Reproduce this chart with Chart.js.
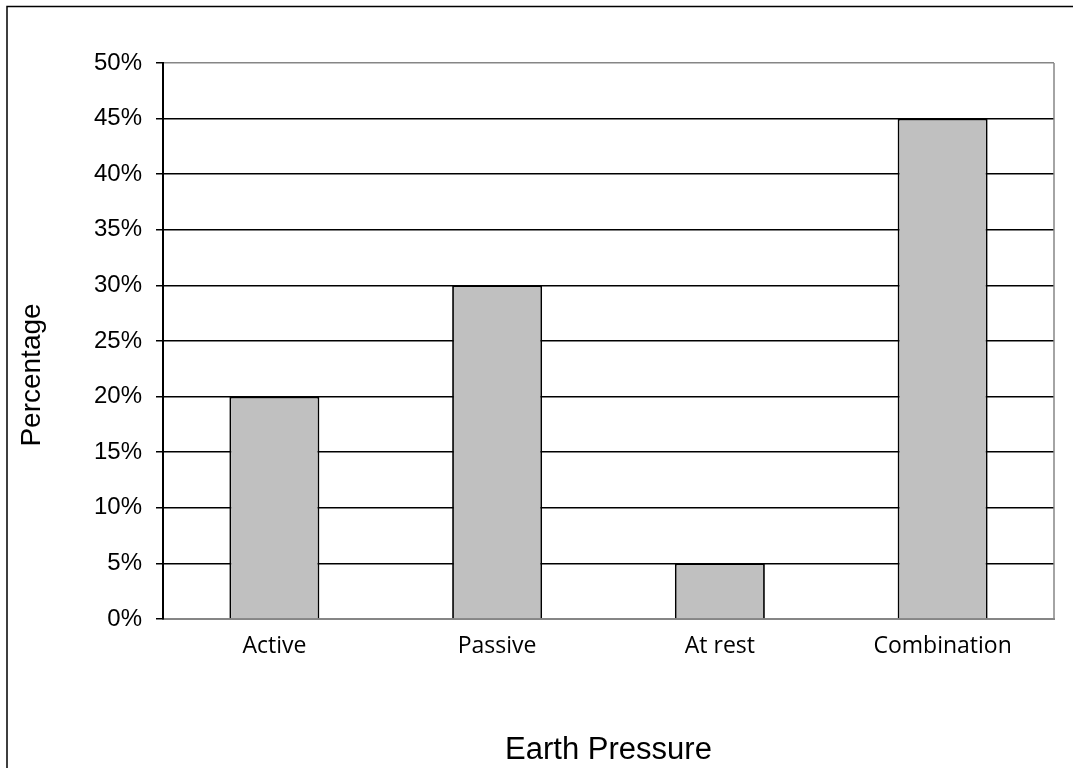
<!DOCTYPE html>
<html>
<head>
<meta charset="utf-8">
<script src="https://cdn.jsdelivr.net/npm/chart.js@4/dist/chart.umd.min.js"></script>
<style>
  html, body { margin: 0; padding: 0; background: #fff; }
  #wrap { width: 1073px; height: 768px; position: relative; }
</style>
</head>
<body>
<div id="wrap"><canvas id="earth"></canvas></div>
<script>
var categories = ["Active", "Passive", "At rest", "Combination"];
var percentages = [20, 30, 5, 45];
var yTicks = [0, 5, 10, 15, 20, 25, 30, 35, 40, 45, 50];

var frameGray = "#868686";

// outer frame, plot right edge and the rotated y title
var framePlugin = {
    id: "frame",
    beforeDatasetsDraw: function (chart) {
        var ctx = chart.ctx;
        var a = chart.chartArea;
        ctx.save();
        ctx.strokeStyle = frameGray;
        ctx.lineWidth = 1.5;
        ctx.beginPath();
        ctx.moveTo(a.right, a.top);
        ctx.lineTo(a.right, a.bottom);
        ctx.stroke();
        ctx.restore();
    },
    afterDraw: function (chart) {
        var ctx = chart.ctx;
        ctx.save();
        ctx.strokeStyle = "#000";
        ctx.lineWidth = 1.5;
        ctx.beginPath();
        ctx.moveTo(7, chart.height);
        ctx.lineTo(7, 6.5);
        ctx.lineTo(chart.width, 6.5);
        ctx.stroke();
        // y axis title
        ctx.translate(32, 375);
        ctx.rotate(-Math.PI / 2);
        ctx.fillStyle = "#000";
        ctx.font = "28px 'Liberation Sans', Arial, sans-serif";
        ctx.textAlign = "center";
        ctx.textBaseline = "middle";
        ctx.fillText("Percentage", 0, 0);
        ctx.restore();
    }
};

var ctx = document.getElementById("earth").getContext("2d");
new Chart(ctx, {
    type: "bar",
    data: {
        labels: categories,
        datasets: [{
            data: percentages,
            backgroundColor: "#c0c0c0",
            borderColor: "#000",
            borderWidth: 1.8,
            barPercentage: 0.404,
            categoryPercentage: 1.0
        }]
    },
    options: {
        responsive: true,
        maintainAspectRatio: false,
        animation: false,
        layout: { padding: { left: 0, top: 63, right: 19, bottom: 0 } },
        plugins: {
            legend: { display: false },
            tooltip: { enabled: false }
        },
        scales: {
            x: {
                afterFit: function (scale) { scale.height = 149; },
                grid: { display: false, drawTicks: false },
                border: { display: true, color: frameGray, width: 2 },
                ticks: {
                    color: "#000",
                    padding: 14,
                    font: { family: "'Open Sans', sans-serif", size: 23 }
                },
                title: {
                    display: true,
                    text: "Earth Pressure",
                    color: "#000",
                    padding: { top: 0, bottom: 0 },
                    font: { family: "'Liberation Sans', Arial, sans-serif", size: 31, lineHeight: 1.1 }
                }
            },
            y: {
                min: 0,
                max: 50,
                afterFit: function (scale) { scale.width = 163; },
                afterBuildTicks: function (scale) {
                    scale.ticks = yTicks.map(function (v) { return { value: v }; });
                },
                grid: {
                    color: function (c) { return c.tick && c.tick.value === 50 ? frameGray : "#000"; },
                    tickColor: "#000",
                    lineWidth: 1.5,
                    tickLength: 7
                },
                border: { display: true, color: "#000", width: 2 },
                ticks: {
                    color: "#000",
                    padding: 14,
                    font: { family: "'Liberation Sans', Arial, sans-serif", size: 24 },
                    callback: function (v) { return v + "%"; }
                }
            }
        }
    },
    plugins: [framePlugin]
});
</script>
</body>
</html>
